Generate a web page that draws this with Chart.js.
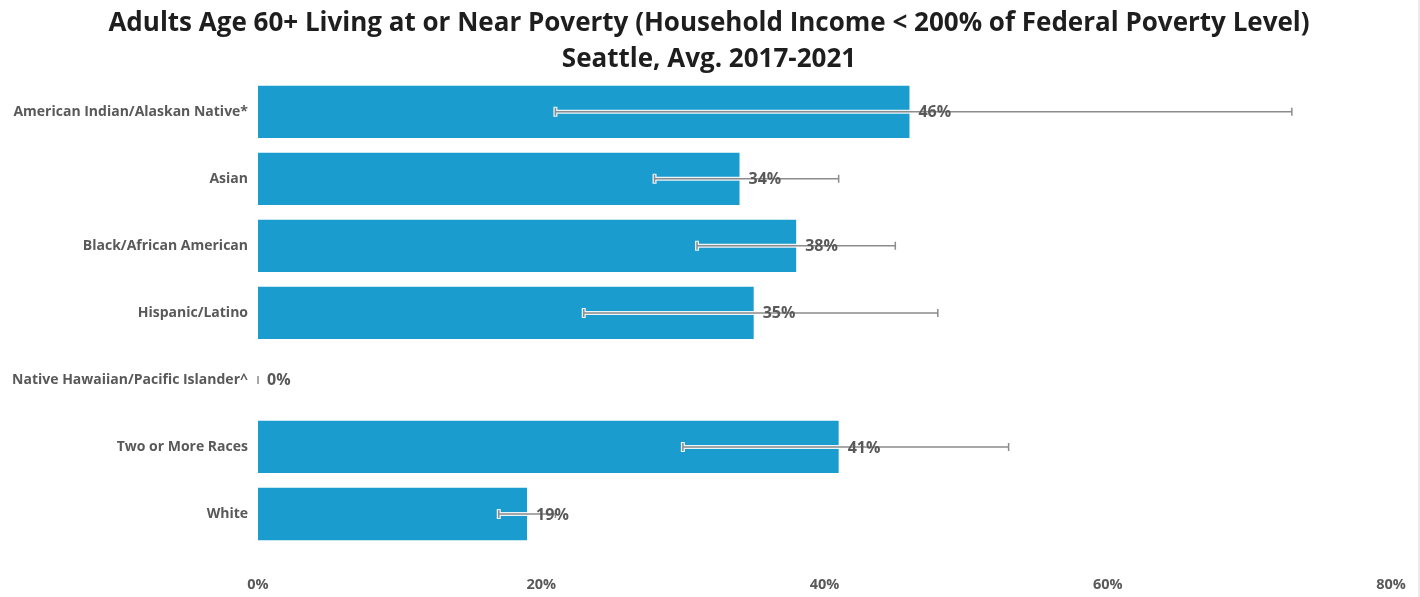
<!DOCTYPE html>
<html>
<head>
<meta charset="utf-8">
<script src="https://cdn.jsdelivr.net/npm/chart.js@4"></script>
<style>
  html, body { margin: 0; padding: 0; background: #fff; }
  #wrap { width: 1420px; height: 597px; position: relative; box-sizing: border-box; border-right: 2px solid #ececec; }
</style>
</head>
<body>
<div id="wrap"><canvas id="povertyChart"></canvas></div>
<script>
// dados
const categories = [
    'American Indian/Alaskan Native*',
    'Asian',
    'Black/African American',
    'Hispanic/Latino',
    'Native Hawaiian/Pacific Islander^',
    'Two or More Races',
    'White'
];
const values = [46, 34, 38, 35, 0, 41, 19];
const errorLow = [21, 28, 31, 23, 0, 30, 17];
const errorHigh = [73, 41, 45, 48, 0, 53, 21];
const xTicks = [0, 20, 40, 60, 80];

const textGray = '#595959';
const fontFamily = '"Open Sans", "Noto Sans", sans-serif';

// barras de erro desenhadas por cima das barras
const errorBarPlugin = {
    id: 'errorBars',
    afterDatasetsDraw(chart) {
        const ctx = chart.ctx;
        const x = chart.scales.x;
        const meta = chart.getDatasetMeta(0);
        ctx.save();
        meta.data.forEach((bar, i) => {
            const x1 = x.getPixelForValue(errorLow[i]);
            const x2 = x.getPixelForValue(errorHigh[i]);
            const y = bar.y;
            // contorno branco
            ctx.strokeStyle = 'rgba(255,255,255,0.9)';
            ctx.lineWidth = 4;
            ctx.beginPath();
            ctx.moveTo(x1, y); ctx.lineTo(x2, y);
            ctx.moveTo(x1, y - 5); ctx.lineTo(x1, y + 5);
            ctx.moveTo(x2, y - 5); ctx.lineTo(x2, y + 5);
            ctx.stroke();
            // linha cinza
            ctx.strokeStyle = '#8c8c8c';
            ctx.lineWidth = 1.5;
            ctx.beginPath();
            ctx.moveTo(x1, y); ctx.lineTo(x2, y);
            ctx.moveTo(x1, y - 4); ctx.lineTo(x1, y + 4);
            ctx.moveTo(x2, y - 4); ctx.lineTo(x2, y + 4);
            ctx.stroke();
        });
        ctx.restore();
    }
};

// rótulos de valor no fim de cada barra
const valueLabelPlugin = {
    id: 'valueLabels',
    afterDatasetsDraw(chart) {
        const ctx = chart.ctx;
        const meta = chart.getDatasetMeta(0);
        ctx.save();
        ctx.font = 'bold 16px ' + fontFamily;
        ctx.fillStyle = textGray;
        ctx.textAlign = 'left';
        ctx.textBaseline = 'middle';
        meta.data.forEach((bar, i) => {
            ctx.fillText(values[i] + '%', bar.x + 9, bar.y + 1);
        });
        ctx.restore();
    }
};

document.addEventListener('DOMContentLoaded', function() {
    const el = document.getElementById('povertyChart');
    new Chart(el, {
        type: 'bar',
        data: {
            labels: categories,
            datasets: [{
                data: values,
                backgroundColor: '#1b9ccf',
                borderWidth: 0,
                categoryPercentage: 1,
                barPercentage: 0.78
            }]
        },
        options: {
            indexAxis: 'y',
            responsive: true,
            maintainAspectRatio: false,
            animation: false,
            layout: { padding: { left: 0, right: 0, top: 0, bottom: 0 } },
            scales: {
                x: {
                    min: 0,
                    max: 80,
                    afterBuildTicks: axis => { axis.ticks = xTicks.map(v => ({ value: v })); },
                    afterFit: axis => {
                        axis.height = 49.5;
                        axis.paddingLeft = 0;
                        axis.paddingRight = 27;
                    },
                    grid: { display: false },
                    border: { display: false },
                    ticks: {
                        padding: 21,
                        color: textGray,
                        font: { family: fontFamily, size: 14.5, weight: 'bold' },
                        callback: v => v + '%'
                    }
                },
                y: {
                    afterFit: axis => { axis.width = 258; },
                    grid: { display: false },
                    border: { display: false },
                    ticks: {
                        padding: 2,
                        color: textGray,
                        font: { family: fontFamily, size: 14, weight: 'bold' }
                    }
                }
            },
            plugins: {
                legend: { display: false },
                tooltip: { enabled: false },
                title: {
                    display: true,
                    text: ['Adults Age 60+ Living at or Near Poverty (Household Income < 200% of Federal Poverty Level)', 'Seattle, Avg. 2017-2021'],
                    color: '#1e1e1e',
                    font: { family: fontFamily, size: 26, weight: 'bold', lineHeight: 1.38 },
                    padding: { top: 6, bottom: 0.5 }
                }
            }
        },
        plugins: [errorBarPlugin, valueLabelPlugin]
    });
});
</script>
</body>
</html>
